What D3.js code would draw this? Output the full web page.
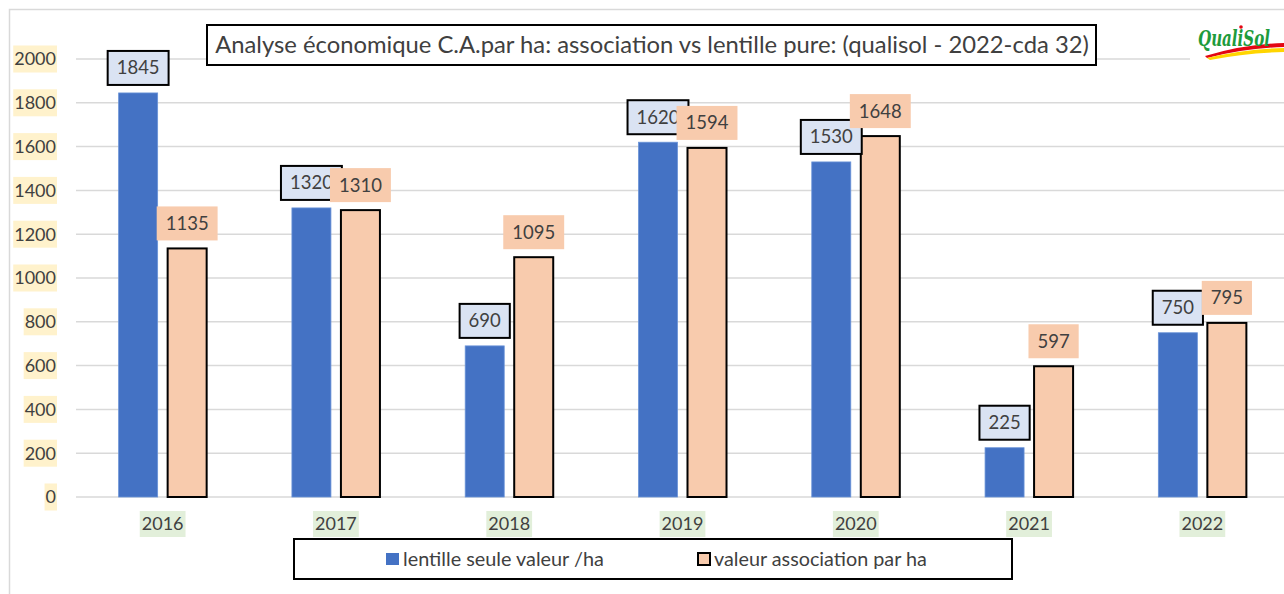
<!DOCTYPE html>
<html>
<head>
<meta charset="utf-8">
<script src="https://cdn.jsdelivr.net/npm/d3@7"></script>
<style>
html,body{margin:0;padding:0;background:#fff;}
svg{display:block;font-family:"Lato","Open Sans",sans-serif;}
</style>
</head>
<body>
<svg id="chart" width="1284" height="594"></svg>
<script>
const categories = ["2016","2017","2018","2019","2020","2021","2022"];
const seriesNames = ["lentille seule valeur /ha","valeur association par ha"];
const lentille = [1845,1320,690,1620,1530,225,750];
const association = [1135,1310,1095,1594,1648,597,795];
const yTicks = [0,200,400,600,800,1000,1200,1400,1600,1800,2000];
const title = "Analyse économique C.A.par ha: association vs lentille pure: (qualisol - 2022-cda 32)";

const colors = ["#4472C4","#F8CBAD"];
const labelBg = ["#DAE3F3","#F8CBAD"];
const textColor = "#404040";

const svg = d3.select("#chart");

function fitText(sel, target){
  const w = sel.node().getComputedTextLength();
  const fs = +sel.attr("font-size");
  sel.attr("font-size", fs*target/w);
}

// chart area border
svg.append("path").attr("d","M9.5,594 V9.5 H1284").attr("fill","none").attr("stroke","#D9D9D9").attr("stroke-width",1.5);

const y = d3.scaleLinear().domain([0,2000]).range([497,59]);
const x = d3.scaleBand().domain(categories).range([76,1289]).paddingInner(0.492).paddingOuter(0.246);
const xs = d3.scaleBand().domain([0,1]).range([0,x.bandwidth()]).paddingInner(0.204);

// gridlines
svg.append("g").selectAll("line").data(yTicks).join("line")
  .attr("x1",76).attr("x2",1284)
  .attr("y1",d=>y(d)).attr("y2",d=>y(d))
  .attr("stroke","#D9D9D9").attr("stroke-width",1.5);

// y tick labels with yellow highlight
const yl = svg.append("g");
yTicks.forEach(t=>{
  const g = yl.append("g");
  const txt = g.append("text").attr("x",56).attr("y",y(t)).attr("dy","0.35em")
    .attr("text-anchor","end").attr("font-size",18).attr("fill",textColor).text(t);
  const w = txt.node().getComputedTextLength();
  g.insert("rect","text").attr("x",57-w-2).attr("y",y(t)-13.5).attr("width",w+2).attr("height",27).attr("fill","#FFF2CC");
});

// x tick labels with green highlight
const xl = svg.append("g");
categories.forEach(c=>{
  const cx = x(c)+x.bandwidth()/2;
  const g = xl.append("g");
  const txt = g.append("text").attr("x",cx).attr("y",524).attr("dy","0.35em")
    .attr("text-anchor","middle").attr("font-size",18).attr("fill",textColor).text(c);
  const w = txt.node().getComputedTextLength();
  g.insert("rect","text").attr("x",cx-w/2-2).attr("y",511).attr("width",w+4).attr("height",26).attr("fill","#E2EFDA");
});

const data = categories.map((c,i)=>({c, v:[lentille[i],association[i]]}));

// bars
const bars = svg.append("g");
data.forEach(d=>{
  d.v.forEach((v,k)=>{
    const bx = x(d.c)+xs(k);
    bars.append("rect")
      .attr("x",bx).attr("y",y(v)).attr("width",xs.bandwidth()).attr("height",y(0)-y(v))
      .attr("fill",colors[k])
      .attr("stroke",k===1?"#000":"#6A93D8")
      .attr("stroke-width",k===1?2:0.8);
  });
});

// data labels
const labels = svg.append("g");
[0,1].forEach(k=>{
  data.forEach(d=>{
    const v = d.v[k];
    const cx = x(d.c)+xs(k)+xs.bandwidth()/2;
    const bottom = y(v)-8;
    const g = labels.append("g");
    const txt = g.append("text").attr("x",cx).attr("y",bottom-17).attr("dy","0.35em").attr("text-anchor","middle")
      .attr("font-size",18.5).attr("fill",textColor).text(v);
    const w = txt.node().getComputedTextLength();
    g.insert("rect","text").attr("x",cx-w/2-9).attr("y",bottom-34).attr("width",w+18).attr("height",34)
      .attr("fill",labelBg[k]).attr("stroke",k===0?"#000":"none").attr("stroke-width",2);
  });
});

// title
svg.append("rect").attr("x",207).attr("y",25).attr("width",889).attr("height",40)
  .attr("fill","#fff").attr("stroke","#000").attr("stroke-width",2);
const tt = svg.append("text").attr("x",652).attr("y",45).attr("dy","0.35em").attr("text-anchor","middle")
  .attr("font-size",20).attr("fill",textColor).text(title);
fitText(tt, 874);

// legend
svg.append("rect").attr("x",294).attr("y",539).attr("width",718).attr("height",40)
  .attr("fill","#fff").attr("stroke","#000").attr("stroke-width",2);
const leg = svg.append("g");
const legItems = [{x:386,tx:403,w:201},{x:698,tx:714,w:213}];
seriesNames.forEach((n,k)=>{
  leg.append("rect").attr("x",legItems[k].x).attr("y",553).attr("width",k===1?12:13).attr("height",12)
    .attr("fill",colors[k]).attr("stroke",k===1?"#000":"none").attr("stroke-width",2);
  const lt = leg.append("text").attr("x",legItems[k].tx).attr("y",559).attr("dy","0.35em")
    .attr("font-size",18).attr("fill",textColor).text(n);
  fitText(lt, legItems[k].w);
});

// logo
const logo = svg.append("g");
logo.append("rect").attr("x",1190).attr("y",13).attr("width",94).attr("height",50).attr("fill","#fff");
logo.append("path").attr("d","M1205,56 Q1245,44 1284,43 L1284,47 Q1245,48 1207,58 Z").attr("fill","#E30613");
logo.append("path").attr("d","M1207,58 Q1245,49 1284,48 L1284,52 Q1245,53 1210,60 Z").attr("fill","#FFD500");
logo.append("text").attr("x",1198).attr("y",46)
  .attr("font-size",22).attr("font-style","italic").attr("font-weight","bold")
  .attr("font-family","DejaVu Serif, serif").attr("fill","#1E9B3C")
  .attr("textLength",72).attr("lengthAdjust","spacingAndGlyphs").text("QualiSol");
logo.append("circle").attr("cx",1241).attr("cy",27).attr("r",1.8).attr("fill","#E30613");
</script>
</body>
</html>
